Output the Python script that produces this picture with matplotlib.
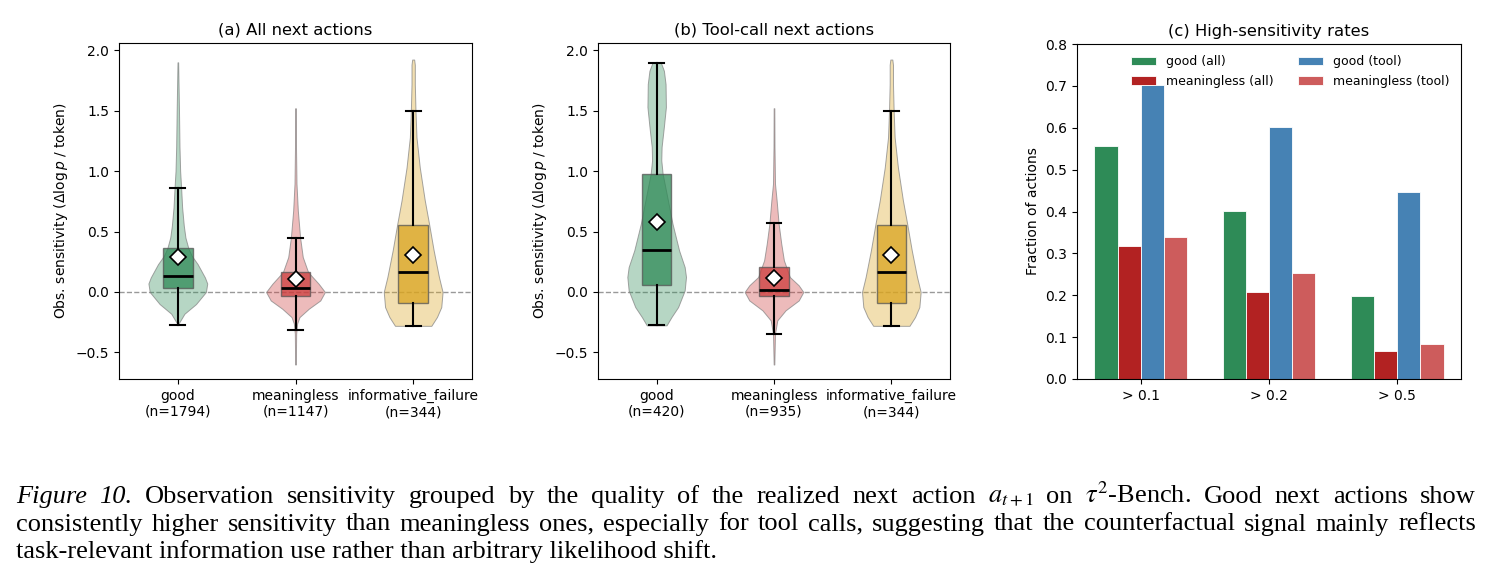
import numpy as np
import matplotlib
matplotlib.use("Agg")
import matplotlib.pyplot as plt
from matplotlib.colors import to_rgba

# categories and counts
categories = ["good", "meaningless", "informative_failure"]
counts_all = [1794, 1147, 344]
counts_tool = [420, 935, 344]

# box summaries: q1, median, q3, whisker low, whisker high, mean
box_all = [
    [0.033, 0.129, 0.364, -0.271, 0.858, 0.289],
    [-0.031, 0.033, 0.162, -0.312, 0.447, 0.107],
    [-0.089, 0.165, 0.551, -0.282, 1.500, 0.303],
]
box_tool = [
    [0.057, 0.344, 0.974, -0.271, 1.898, 0.582],
    [-0.036, 0.013, 0.206, -0.345, 0.571, 0.115],
    [-0.089, 0.165, 0.551, -0.282, 1.500, 0.303],
]

# violin outlines (sensitivity level, relative density)
good_all_y = [-0.27, -0.235, -0.18, -0.10, 0.0, 0.07, 0.12, 0.23, 0.30, 0.36, 0.45, 0.55, 0.70, 0.86, 1.0, 1.2, 1.5, 1.90]
good_all_d = [0, 8, 20, 55, 85, 89, 82, 60, 42, 32, 23, 18, 13, 10, 7, 5, 3.5, 1]
mean_all_y = [-0.60, -0.345, -0.26, -0.208, -0.139, -0.07, 0.0, 0.068, 0.165, 0.289, 0.449, 0.675, 0.896, 1.20, 1.52]
mean_all_d = [1, 2, 5, 12, 40, 75, 89, 70, 38, 22, 14, 7, 3, 1.5, 1]
info_y = [-0.28, -0.207, -0.125, 0.0, 0.124, 0.344, 0.565, 0.76, 1.03, 1.28, 1.50, 1.72, 1.88, 1.923]
info_d = [55, 72, 85, 89, 78, 62, 48, 35, 20, 10, 7, 5, 5, 3]
good_tool_y = [-0.276, -0.207, -0.125, 0.013, 0.124, 0.206, 0.344, 0.565, 0.76, 0.98, 1.09, 1.20, 1.37, 1.53, 1.72, 1.83, 1.903]
good_tool_d = [30, 45, 65, 85, 89, 85, 68, 48, 34, 18, 14, 15, 22, 28, 27, 22, 12]
mean_tool_y = [-0.60, -0.345, -0.235, -0.152, -0.07, 0.0, 0.055, 0.124, 0.262, 0.40, 0.565, 0.758, 0.896, 1.20, 1.52]
mean_tool_d = [1, 3, 10, 35, 75, 89, 75, 48, 30, 22, 14, 8, 3, 1.5, 1]

violins_all = [(good_all_y, good_all_d), (mean_all_y, mean_all_d), (info_y, info_d)]
violins_tool = [(good_tool_y, good_tool_d), (mean_tool_y, mean_tool_d), (info_y, info_d)]

# high-sensitivity rates
thresholds = ["> 0.1", "> 0.2", "> 0.5"]
rate_good_all = [0.557, 0.401, 0.199]
rate_mean_all = [0.317, 0.208, 0.067]
rate_good_tool = [0.701, 0.601, 0.446]
rate_mean_tool = [0.339, 0.254, 0.083]

cat_colors = ["#2e8b57", "#cd3c3c", "#daa520"]
bar_colors = ["#2e8b57", "#b22222", "#4682b4", "#cd5c5c"]

W, H = 1492, 588
fig = plt.figure(figsize=(W / 100, H / 100), dpi=100)


def violin_panel(ax, violins, boxes, counts, title):
    pos = np.arange(len(categories))
    vstats = []
    for (yy, dd), b in zip(violins, boxes):
        vstats.append({"coords": np.array(yy), "vals": np.array(dd, dtype=float),
                       "mean": b[5], "median": b[1], "min": yy[0], "max": yy[-1],
                       "quantiles": []})
    vp = ax.violin(vstats, positions=pos, widths=0.5, showextrema=False)
    for body, c in zip(vp["bodies"], cat_colors):
        body.set_alpha(None)
        body.set_facecolor(to_rgba(c, 0.35))
        body.set_edgecolor((0.5, 0.5, 0.5, 0.7))
        body.set_linewidth(0.7)
        body.set_zorder(1)
    bstats = [{"q1": b[0], "med": b[1], "q3": b[2], "whislo": b[3], "whishi": b[4],
               "mean": b[5], "fliers": []} for b in boxes]
    bp = ax.bxp(bstats, positions=pos, widths=0.25, patch_artist=True, showmeans=True,
                showfliers=False,
                medianprops=dict(color="black", linewidth=2),
                whiskerprops=dict(color="black", linewidth=1.5),
                capprops=dict(color="black", linewidth=1.5),
                meanprops=dict(marker="D", markerfacecolor="white", markeredgecolor="black",
                               markersize=8, markeredgewidth=1.2))
    for patch, c in zip(bp["boxes"], cat_colors):
        patch.set_facecolor(c)
        patch.set_alpha(0.75)
        patch.set_edgecolor("#555555")
        patch.set_linewidth(1)
        patch.set_zorder(2)
    ax.axhline(0, color="gray", linestyle="--", linewidth=1, alpha=0.8, zorder=0)
    ax.set_xticks(pos)
    ax.set_xticklabels(["{}\n(n={})".format(c, n) for c, n in zip(categories, counts)], fontsize=10)
    ax.set_xlim(-0.5, 2.5)
    ax.set_ylim(-0.72, 2.06)
    ax.set_yticks([-0.5, 0.0, 0.5, 1.0, 1.5, 2.0])
    ax.tick_params(labelsize=10)
    ax.set_ylabel(r"Obs. sensitivity ($\Delta\log p$ / token)", fontsize=10)
    ax.set_title(title, fontsize=11.8)


ax1 = fig.add_axes([119 / W, 1 - 379 / H, 353 / W, 336 / H])
violin_panel(ax1, violins_all, box_all, counts_all, "(a) All next actions")
ax2 = fig.add_axes([598 / W, 1 - 379 / H, 352 / W, 336 / H])
violin_panel(ax2, violins_tool, box_tool, counts_tool, "(b) Tool-call next actions")

ax3 = fig.add_axes([1077 / W, 1 - 379 / H, 384 / W, 335 / H])
x = np.arange(len(thresholds))
bw = 0.18
series = [("good (all)", rate_good_all), ("meaningless (all)", rate_mean_all),
          ("good (tool)", rate_good_tool), ("meaningless (tool)", rate_mean_tool)]
for i, (lab, vals) in enumerate(series):
    ax3.bar(x + (i - 1.5) * bw, vals, bw, color=bar_colors[i], edgecolor="white",
            linewidth=0.6, label=lab)
ax3.set_xticks(x)
ax3.set_xticklabels(thresholds)
ax3.set_ylim(0, 0.8)
ax3.tick_params(labelsize=10)
ax3.set_ylabel("Fraction of actions", fontsize=10)
ax3.set_title("(c) High-sensitivity rates", fontsize=11.8)
ax3.legend(ncol=2, frameon=False, fontsize=9, loc="upper right")

# caption, justified like the paper
cap_size = 19
serif = ["Liberation Serif", "DejaVu Serif"]
line1 = ["Figure", "10.", "Observation", "sensitivity", "grouped", "by", "the", "quality", "of",
         "the", "realized", "next", "action", r"$a_{t+1}$", "on", r"$\tau^2$-Bench.", "Good",
         "next", "actions", "show"]
line2 = "consistently higher sensitivity than meaningless ones, especially for tool calls, suggesting that the counterfactual signal mainly reflects".split()
line3 = "task-relevant information use rather than arbitrary likelihood shift."
x0, x1 = 16, 1476
baselines = [503, 530.5, 558]

renderer = fig.canvas.get_renderer()
for words, yb in [(line1, baselines[0]), (line2, baselines[1])]:
    texts = []
    for k, w in enumerate(words):
        style = "italic" if (words is line1 and k < 2) else "normal"
        texts.append(fig.text(0, 1 - yb / H, w, fontsize=cap_size, family=serif, style=style,
                              math_fontfamily="stix", va="baseline", ha="left"))
    widths = [t.get_window_extent(renderer).width for t in texts]
    gap = (x1 - x0 - sum(widths)) / (len(texts) - 1)
    xp = x0
    for t, wd in zip(texts, widths):
        t.set_x(xp / W)
        xp += wd + gap
fig.text(x0 / W, 1 - baselines[2] / H, line3, fontsize=cap_size, family=serif,
         va="baseline", ha="left")

fig.savefig("out.png", dpi=100)
